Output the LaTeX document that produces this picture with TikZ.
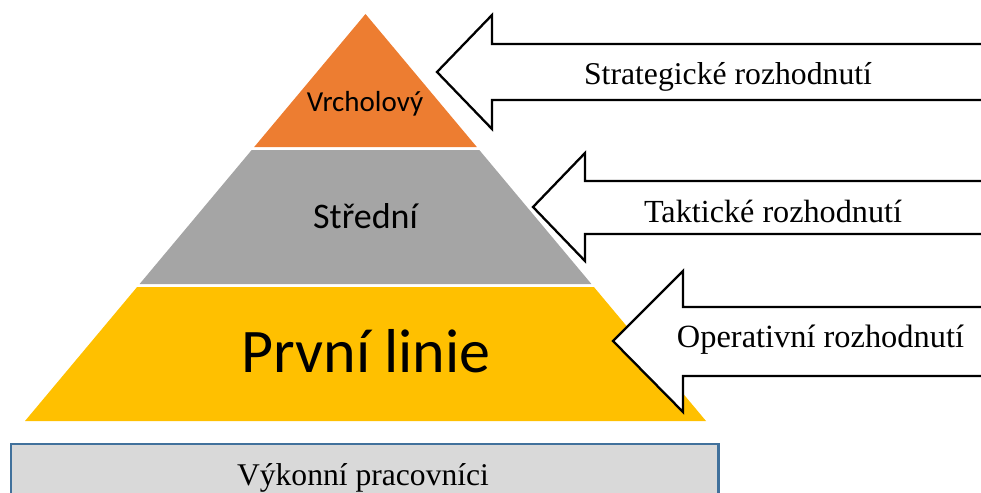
\documentclass[tikz,border=0pt]{standalone}
\usepackage{fontspec}
\setmainfont{Liberation Serif}
\newfontfamily\pyrfont{Carlito}
\definecolor{lvlTop}{HTML}{ED7D31}
\definecolor{lvlMid}{HTML}{A5A5A5}
\definecolor{lvlLow}{HTML}{FFC000}
\definecolor{baseFill}{HTML}{D9D9D9}
\definecolor{baseLine}{HTML}{41719C}

\begin{document}
\begin{tikzpicture}[x=1pt, y=-1pt,
    lvllabel/.style={anchor=base, inner sep=0pt, font=\pyrfont},
    decision/.style={draw=black, line width=2.3pt, fill=white, line join=miter},
    declabel/.style={anchor=base, inner sep=0pt, font=\fontsize{32.2}{38}\selectfont}]
\useasboundingbox (0,0) rectangle (981,492);

% pyramid levels
\fill[lvlTop] (365.5,14) -- (476.8,147) -- (254.2,147) -- cycle;
\fill[lvlMid] (251.7,150) -- (479.3,150) -- (591.4,284) -- (139.6,284) -- cycle;
\fill[lvlLow] (137.1,287) -- (593.9,287) -- (706,421) -- (25,421) -- cycle;

% decision arrows, open at the right edge
\path[decision] (995,44) -- (492,44) -- (492,15) -- (437,72)
  -- (492,129) -- (492,100) -- (995,100);
\path[decision] (995,181) -- (585,181) -- (585,153) -- (533,207)
  -- (585,261) -- (585,234) -- (995,234);
\path[decision] (995,307) -- (683,307) -- (683,271) -- (613,341)
  -- (683,412) -- (683,376) -- (995,376);

% level labels
\node[lvllabel, font=\pyrfont\fontsize{29}{35}\selectfont] (vrchol) at (365,111) {Vrcholový};
\node[lvllabel, font=\pyrfont\fontsize{36}{43}\selectfont] (stred) at (365.5,228) {Střední};
\node[lvllabel, font=\pyrfont\fontsize{62}{74}\selectfont] (prvni) at (366,372) {První linie};

\node[declabel, font=\fontsize{31.7}{38}\selectfont] (strat) at (728,85) {Strategické rozhodnutí};
\node[declabel] (takt) at (773,222) {Taktické rozhodnutí};
\node[declabel, font=\fontsize{32.4}{38}\selectfont] (oper) at (820.5,347) {Operativní rozhodnutí};

% executive staff base
\filldraw[draw=baseLine, fill=baseFill, line width=2.5pt] (11,444) rectangle (718.5,510);
\node[declabel, font=\fontsize{31.6}{38}\selectfont] (vykon) at (363,485) {Výkonní pracovníci};
\end{tikzpicture}
\end{document}
